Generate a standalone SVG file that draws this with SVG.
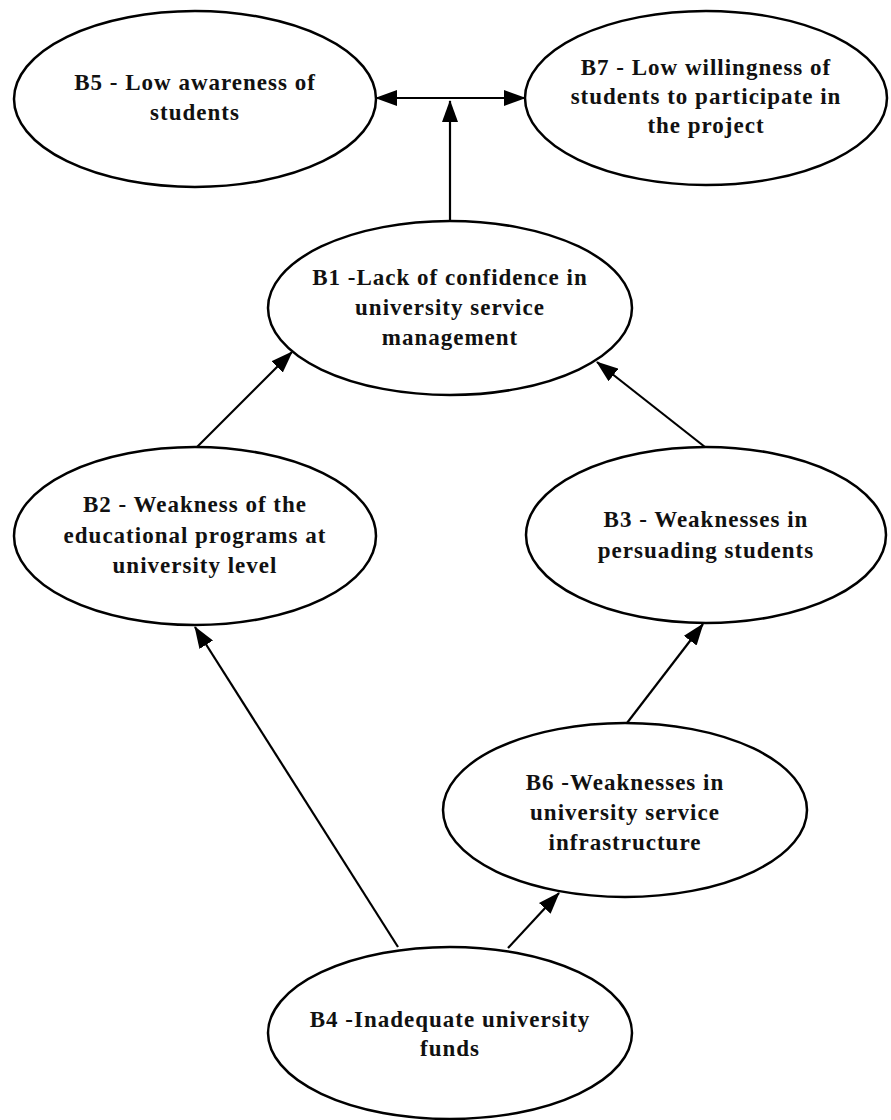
<svg xmlns="http://www.w3.org/2000/svg" width="891" height="1120" viewBox="0 0 891 1120">
<style>
.node ellipse{fill:#fff;stroke:#000;stroke-width:2.5}
.node text{font-family:"Liberation Serif","Times New Roman",serif;font-weight:bold;font-size:23px;letter-spacing:1px;text-anchor:middle;fill:#111}
.edge{stroke:#000;stroke-width:2.2;fill:none;marker-end:url(#arr)}
</style>
<defs>
<marker id="arr" markerUnits="userSpaceOnUse" markerWidth="22" markerHeight="16" refX="21" refY="8" orient="auto-start-reverse">
<path d="M0,0 L22,8 L0,16 z" fill="#000"/>
</marker>
</defs>
<rect width="891" height="1120" fill="#fff"/>
<g id="connectors">
<path class="edge" d="M450,200 L450,101"/>
<path class="edge" d="M450,98 L525,98"/>
<path class="edge" d="M450,98 L376,98"/>
<path class="edge" d="M197,447 L292,352"/>
<path class="edge" d="M705,447 L597,362"/>
<path class="edge" d="M627,723 L703,624"/>
<path class="edge" d="M398,947 L195,627"/>
<path class="edge" d="M508,948 L559,893"/>
<path d="M450,221 L450,200" stroke="#000" stroke-width="2.2"/>
</g>
<g id="B5" class="node">
<ellipse cx="195" cy="99" rx="181" ry="88"/>
<text x="195" y="90">B5 - Low awareness of</text>
<text x="195" y="120">students</text>
</g>
<g id="B7" class="node">
<ellipse cx="706" cy="98" rx="181" ry="87"/>
<text x="706" y="75">B7 - Low willingness of</text>
<text x="706" y="104">students to participate in</text>
<text x="706" y="133">the project</text>
</g>
<g id="B1" class="node">
<ellipse cx="450" cy="308" rx="182" ry="87"/>
<text x="450" y="285">B1 -Lack of confidence in</text>
<text x="450" y="315">university service</text>
<text x="450" y="345">management</text>
</g>
<g id="B2" class="node">
<ellipse cx="195" cy="536" rx="181" ry="89"/>
<text x="195" y="512">B2 - Weakness of the</text>
<text x="195" y="543">educational programs at</text>
<text x="195" y="573">university level</text>
</g>
<g id="B3" class="node">
<ellipse cx="706" cy="535" rx="180" ry="88"/>
<text x="706" y="527">B3 - Weaknesses in</text>
<text x="706" y="558">persuading students</text>
</g>
<g id="B6" class="node">
<ellipse cx="625" cy="810" rx="182" ry="87"/>
<text x="625" y="790">B6 -Weaknesses in</text>
<text x="625" y="820">university service</text>
<text x="625" y="850">infrastructure</text>
</g>
<g id="B4" class="node">
<ellipse cx="450" cy="1033" rx="182" ry="86"/>
<text x="450" y="1027">B4 -Inadequate university</text>
<text x="450" y="1056">funds</text>
</g>
</svg>
